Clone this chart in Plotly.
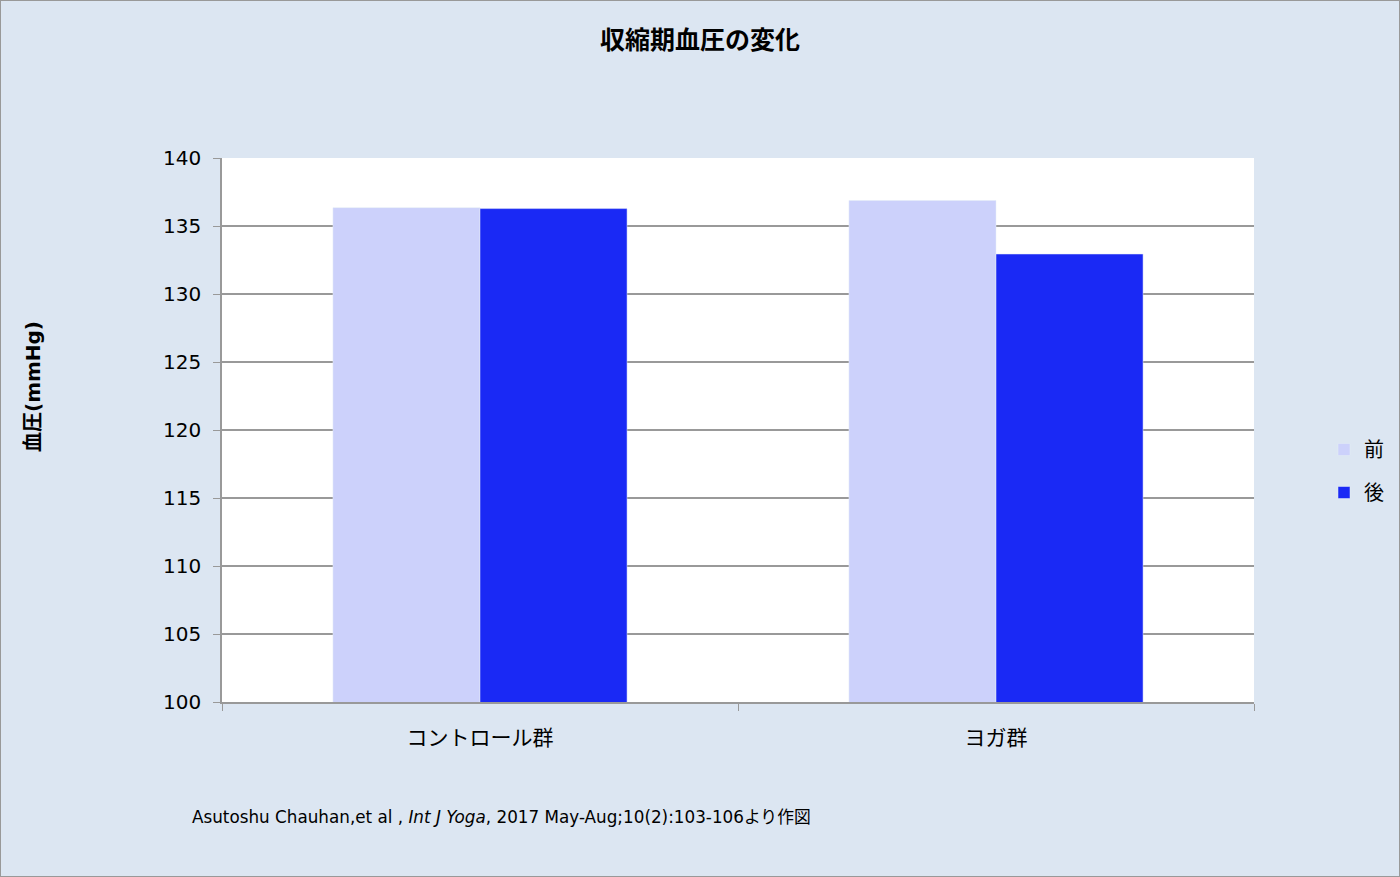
import plotly.graph_objects as go

groups = ['コントロール群', 'ヨガ群']
before = [136.35, 136.87]
after = [136.28, 132.94]

font_main = 'DejaVu Sans, Noto Sans CJK JP'

fig = go.Figure()
fig.add_trace(go.Bar(x=groups, y=before, name='前', marker_color='#ccd1fb', legendgroup='a'))
fig.add_trace(go.Bar(x=groups, y=after, name='後', marker_color='#1a29f5', legendgroup='b'))

fig.update_layout(
    width=1400, height=877,
    margin=dict(l=222, r=146, t=158, b=175),
    paper_bgcolor='#dce6f2',
    plot_bgcolor='white',
    font=dict(family=font_main, size=20, color='black'),
    title=dict(text='<b>収縮期血圧の変化</b>', x=0.5, xanchor='center', y=1 - 40 / 877,
               yanchor='middle', font=dict(size=25)),
    bargap=0.43, bargroupgap=0,
    legend=dict(xref='container', yref='container', x=1324 / 1400, y=1 - 471 / 877,
                yanchor='middle', xanchor='left', font=dict(size=20),
                traceorder='grouped', tracegroupgap=14, itemwidth=30),
    showlegend=True,
)
fig.update_yaxes(range=[100, 140], dtick=5, showgrid=True, gridcolor='#999999', gridwidth=1.5,
                 showline=True, linecolor='#999999', linewidth=1.5,
                 ticks='outside', ticklen=7, tickcolor='#999999', ticklabelstandoff=8)
fig.update_xaxes(showline=True, linecolor='#999999', linewidth=1.5,
                 ticks='outside', ticklen=7, tickcolor='#999999', tickson='boundaries',
                 tickfont=dict(size=21), ticklabelstandoff=16)
# outer frame
fig.add_shape(type='rect', xref='paper', yref='paper', x0=-222/1032, x1=1 + 146/1032,
              y0=-175/544, y1=1 + 158/544, line=dict(color='#999999', width=2))
fig.add_annotation(text='<b>血圧(mmHg)</b>', xref='paper', yref='paper',
                   x=(33 - 222) / 1032, y=(702 - 387) / 544, textangle=-90,
                   showarrow=False, font=dict(size=20), xanchor='center', yanchor='middle')
fig.add_annotation(text='Asutoshu Chauhan,et al , <i>Int J Yoga</i>, 2017 May-Aug;10(2):103-106より作図',
                   xref='paper', yref='paper', x=(190 - 222) / 1032, y=(702 - 817) / 544,
                   xanchor='left', yanchor='middle', showarrow=False, font=dict(size=16.8))
fig.write_html('out.html', config={'displayModeBar': False},
               post_script="document.body.style.margin='0';")
